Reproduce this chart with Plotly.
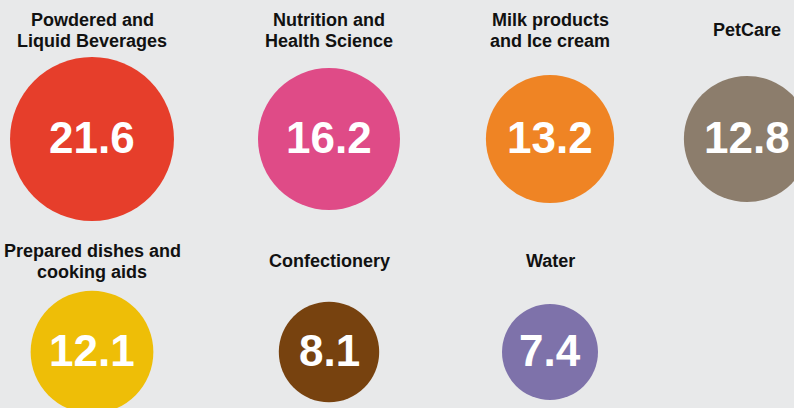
import plotly.graph_objects as go

# ---- data ----
categories = [
    "Powdered and<br>Liquid Beverages",
    "Nutrition and<br>Health Science",
    "Milk products<br>and Ice cream",
    "PetCare",
    "Prepared dishes and<br>cooking aids",
    "Confectionery",
    "Water",
]
values = [21.6, 16.2, 13.2, 12.8, 12.1, 8.1, 7.4]
value_labels = ["21.6", "16.2", "13.2", "12.8", "12.1", "8.1", "7.4"]

# ---- layout / style (grid positions in page pixels) ----
colors = ["#E63E2B", "#DF4B87", "#EF8424", "#8C7D6C", "#EEBE07", "#77420F", "#7E72AA"]
col_x = [92, 329, 550, 747]
row_circle_y = [139, 352]
row_label_y = [30, 261]
line_gap = 21
grid = [(0, 0), (0, 1), (0, 2), (0, 3), (1, 0), (1, 1), (1, 2)]

k = 17.64  # radius px per sqrt(value)
sizeref = 1.0 / (2 * k * k)

xs = [col_x[c] for r, c in grid]
ys = [row_circle_y[r] for r, c in grid]

fig = go.Figure()
fig.add_trace(go.Scatter(
    x=xs, y=ys,
    mode="markers",
    marker=dict(size=values, sizemode="area", sizeref=sizeref,
                color=colors, line=dict(width=0), opacity=1),
    hoverinfo="skip",
    cliponaxis=True,
))

for x, y, t in zip(xs, ys, value_labels):
    fig.add_annotation(
        x=x, y=y, text="<b>" + t + "</b>", showarrow=False,
        xanchor="center", yanchor="middle", yshift=2,
        font=dict(family="Liberation Sans, Arial, sans-serif", size=44, color="white"),
    )

for (r, c), lab in zip(grid, categories):
    lines = lab.split("<br>")
    n = len(lines)
    for i, ln in enumerate(lines):
        off = (i - (n - 1) / 2) * line_gap
        fig.add_annotation(
            x=col_x[c], y=row_label_y[r] + off, text="<b>" + ln + "</b>",
            showarrow=False, xanchor="center", yanchor="middle",
            font=dict(family="Liberation Sans, Arial, sans-serif", size=18, color="#111111"),
            align="center",
        )

fig.update_layout(
    width=794, height=408,
    margin=dict(l=0, r=0, t=0, b=0),
    paper_bgcolor="#E8E9EA", plot_bgcolor="#E8E9EA",
    showlegend=False,
    xaxis=dict(range=[0, 794], visible=False, fixedrange=True),
    yaxis=dict(range=[408, 0], visible=False, fixedrange=True),
)

fig.write_html("out.html", config={"displayModeBar": False},
               post_script="document.body.style.margin='0';document.body.style.background='#E8E9EA';")
